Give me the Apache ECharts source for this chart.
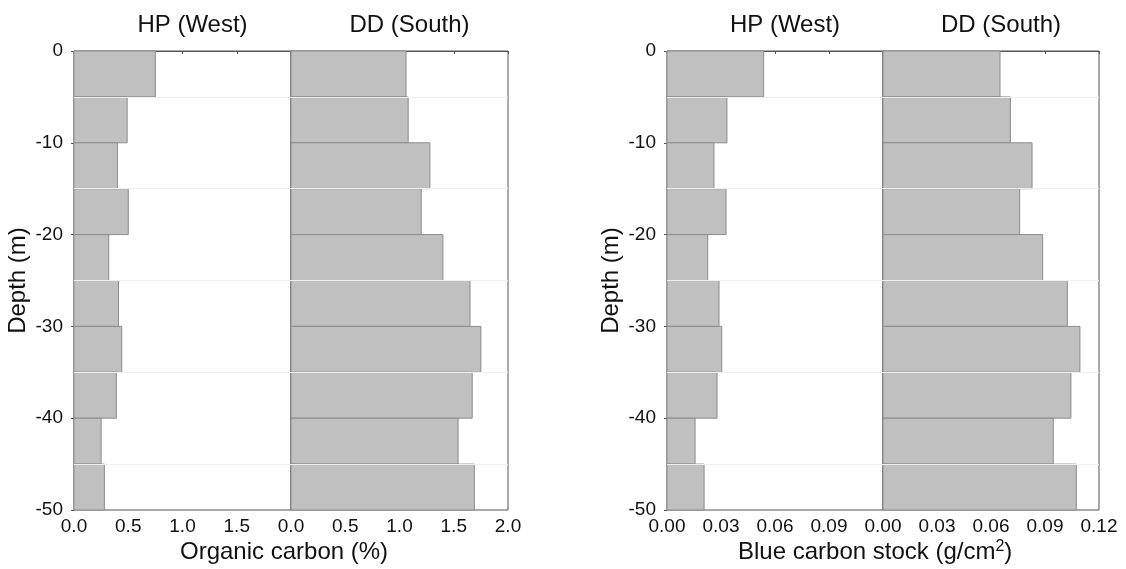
<!DOCTYPE html>
<html>
<head>
<meta charset="utf-8">
<script src="https://cdn.jsdelivr.net/npm/echarts@6/dist/echarts.min.js"></script>
<style>
  html, body { margin: 0; padding: 0; background: #fff; }
  #chart { width: 1126px; height: 569px; }
</style>
</head>
<body>
<div id="chart"></div>
<script>
// depth intervals (top of each 5 m layer)
const depthTop = [0, -5, -10, -15, -20, -25, -30, -35, -40, -45]
const layerThickness = 5
const faintLines = [-5, -15, -25, -35, -45]

// organic carbon (%)
const ocWest = [0.75, 0.49, 0.40, 0.50, 0.32, 0.41, 0.44, 0.39, 0.25, 0.28]
const ocSouth = [1.06, 1.08, 1.28, 1.20, 1.40, 1.65, 1.75, 1.67, 1.54, 1.69]

// blue carbon stock (g/cm2)
const bcWest = [0.0537, 0.0333, 0.0261, 0.0328, 0.0226, 0.0289, 0.0304, 0.0278, 0.0156, 0.0206]
const bcSouth = [0.0650, 0.0708, 0.0828, 0.0759, 0.0887, 0.1024, 0.1094, 0.1044, 0.0946, 0.1074]

const panelTitles = ['HP (West)', 'DD (South)', 'HP (West)', 'DD (South)']

const FONT = "'Liberation Sans', Arial, sans-serif"
const AXIS_COLOR = '#555'

const grids = [
  { left: 74, top: 51, width: 217, height: 459 },
  { left: 291, top: 51, width: 217, height: 459 },
  { left: 667, top: 51, width: 216, height: 459 },
  { left: 883, top: 51, width: 216, height: 459 }
]

function layers(values) {
  return values.map((v, i) => [depthTop[i], depthTop[i] - layerThickness, v])
}

function renderLayer(params, api) {
  const p0 = api.coord([0, api.value(0)])
  const p1 = api.coord([api.value(2), api.value(1)])
  return {
    type: 'rect',
    shape: { x: p0[0], y: p0[1], width: p1[0] - p0[0], height: p1[1] - p0[1] },
    style: { fill: '#c0c0c0', stroke: '#8c8c8c', lineWidth: 1 }
  }
}

function xAxis(idx, max, interval, digits, hideMax) {
  return {
    type: 'value',
    gridIndex: idx,
    min: 0,
    max: max,
    interval: interval,
    axisLine: { show: true, lineStyle: { color: AXIS_COLOR, width: 1 } },
    axisTick: { show: true, length: 3, lineStyle: { color: AXIS_COLOR } },
    splitLine: { show: false },
    axisLabel: {
      color: '#111',
      fontFamily: FONT,
      fontSize: 19,
      margin: 7,
      showMaxLabel: !hideMax,
      formatter: (v) => v.toFixed(digits)
    }
  }
}

function yAxis(idx, labels) {
  return {
    type: 'value',
    gridIndex: idx,
    min: -50,
    max: 0,
    interval: 10,
    axisLine: { show: true, lineStyle: { color: AXIS_COLOR, width: 1 } },
    axisTick: { show: labels, length: 3, lineStyle: { color: AXIS_COLOR } },
    splitLine: { show: false },
    axisLabel: { show: labels, color: '#111', fontFamily: FONT, fontSize: 19, margin: 11 },
    name: labels ? 'Depth (m)' : '',
    nameLocation: 'middle',
    nameGap: 44,
    nameTextStyle: { color: '#111', fontFamily: FONT, fontSize: 24 }
  }
}

function layerSeries(idx, values) {
  return {
    type: 'custom',
    xAxisIndex: idx,
    yAxisIndex: idx,
    renderItem: renderLayer,
    encode: { x: 2, y: [0, 1] },
    data: layers(values),
    silent: true,
    markLine: {
      silent: true,
      symbol: 'none',
      label: { show: false },
      lineStyle: { color: '#efefef', width: 1, type: 'solid' },
      data: faintLines.map((d) => ({ yAxis: d }))
    },
    z: 1
  }
}

const chart = echarts.init(document.getElementById('chart'), null, { renderer: 'canvas' })

const option = {
  animation: false,
  backgroundColor: '#fff',
  title: grids.map((g, i) => ({
    text: panelTitles[i],
    left: g.left + g.width / 2 + 5,
    top: 8,
    textAlign: 'center',
    textStyle: { color: '#111', fontFamily: FONT, fontSize: 24, fontWeight: 'normal' }
  })),
  grid: grids.map((g) => ({
    left: g.left,
    top: g.top,
    width: g.width,
    height: g.height,
    show: true,
    borderColor: AXIS_COLOR,
    borderWidth: 1,
    backgroundColor: 'transparent'
  })),
  xAxis: [
    xAxis(0, 2, 0.5, 1, true),
    xAxis(1, 2, 0.5, 1, false),
    xAxis(2, 0.12, 0.03, 2, true),
    xAxis(3, 0.12, 0.03, 2, false)
  ],
  yAxis: [yAxis(0, true), yAxis(1, false), yAxis(2, true), yAxis(3, false)],
  series: [
    layerSeries(0, ocWest),
    layerSeries(1, ocSouth),
    layerSeries(2, bcWest),
    layerSeries(3, bcSouth)
  ],
  graphic: [
    {
      type: 'text',
      left: 180,
      top: 540,
      style: { text: 'Organic carbon (%)', fill: '#111', font: '24px ' + FONT }
    },
    {
      type: 'text',
      left: 738,
      top: 539,
      style: {
        text: '{a|Blue carbon stock (g/cm}{s|2}{a|)}',
        fill: '#111',
        rich: {
          a: { fontSize: 24, fontFamily: FONT, fill: '#111', verticalAlign: 'bottom' },
          s: { fontSize: 16, fontFamily: FONT, fill: '#111', verticalAlign: 'bottom', padding: [0, 0, 9, 0] }
        }
      }
    }
  ]
}

chart.setOption(option)
window.addEventListener('resize', function () {
  chart.resize()
})
</script>
</body>
</html>
